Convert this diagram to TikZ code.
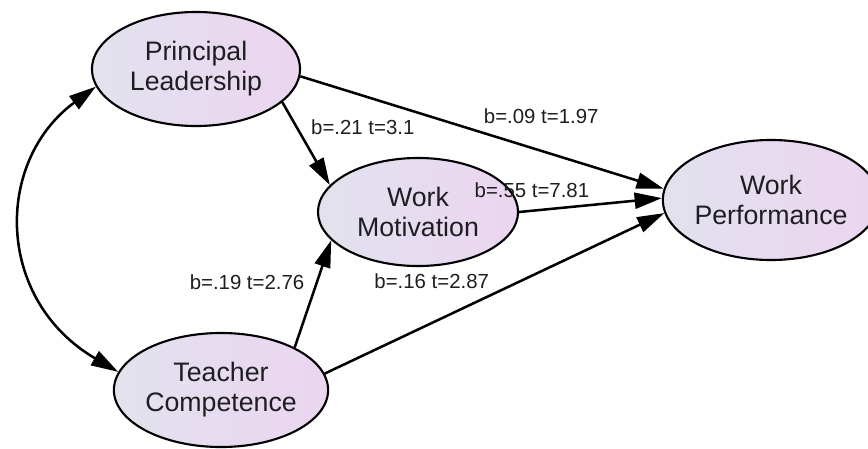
\documentclass[tikz,border=0pt]{standalone}
\usepackage{fontspec}
\setmainfont{Liberation Sans}
\usetikzlibrary{shapes.geometric,arrows.meta,positioning}

\definecolor{shadeL}{HTML}{E2E2EE}
\definecolor{shadeR}{HTML}{EBD5F0}
\definecolor{ink}{HTML}{1E1E22}

\tikzset{
  latent/.style={ellipse, draw=black, line width=1.5pt, left color=shadeL, right color=shadeR,
    align=center, inner sep=0pt, text=ink, font=\fontsize{19}{21.3}\selectfont},
  coef/.style={line width=1.8pt, -{Triangle[length=6.8mm,width=4mm]}},
  coeflbl/.style={font=\fontsize{14.5}{17}\selectfont, text=ink, inner sep=1pt}
}

\begin{document}
\begin{tikzpicture}[x=0.025cm, y=-0.025cm]
        \useasboundingbox (0,0) rectangle (868,448);

        % latent variables
        \node[latent, minimum width=5.2cm, minimum height=2.85cm] (pl) at (196,69) {Principal\\Leadership};
        \node[latent, minimum width=5cm, minimum height=2.7cm] (wm) at (418,212) {Work\\Motivation};
        \node[latent, minimum width=5.2cm, minimum height=3cm] (wp) at (771,200) {Work\\Performance};
        \node[latent, minimum width=5.2cm, minimum height=2.85cm] (tc) at (221,390) {Teacher\\Competence};

        % paths
        \draw[coef] (pl.-21) -- node[coeflbl, pos=.3, right=3mm]{b=.21 t=3.1} (wm.163);
        \draw[coef] (pl.-4) -- node[coeflbl, pos=.663, above=6mm]{b=.09 t=1.97} (wp.174);
        \draw[coef] (wm.east) -- node[coeflbl, pos=.09, above=2.5mm]{b=.55 t=7.81} (wp.179);
        \draw[coef] (tc.30) -- node[coeflbl, pos=.61, left=2.5mm]{b=.19 t=2.76} (wm.198);
        \draw[coef] (tc.9) -- node[coeflbl, pos=.315, above=8mm]{b=.16 t=2.87} (wp.-173);

        % covariance
        \draw[line width=1.8pt, {Triangle[length=6.8mm,width=4mm]}-{Triangle[length=6.8mm,width=4mm]}]
            (pl.190) .. controls +(-102,75) and +(-123,-72) .. (tc.170);
\end{tikzpicture}
\end{document}
